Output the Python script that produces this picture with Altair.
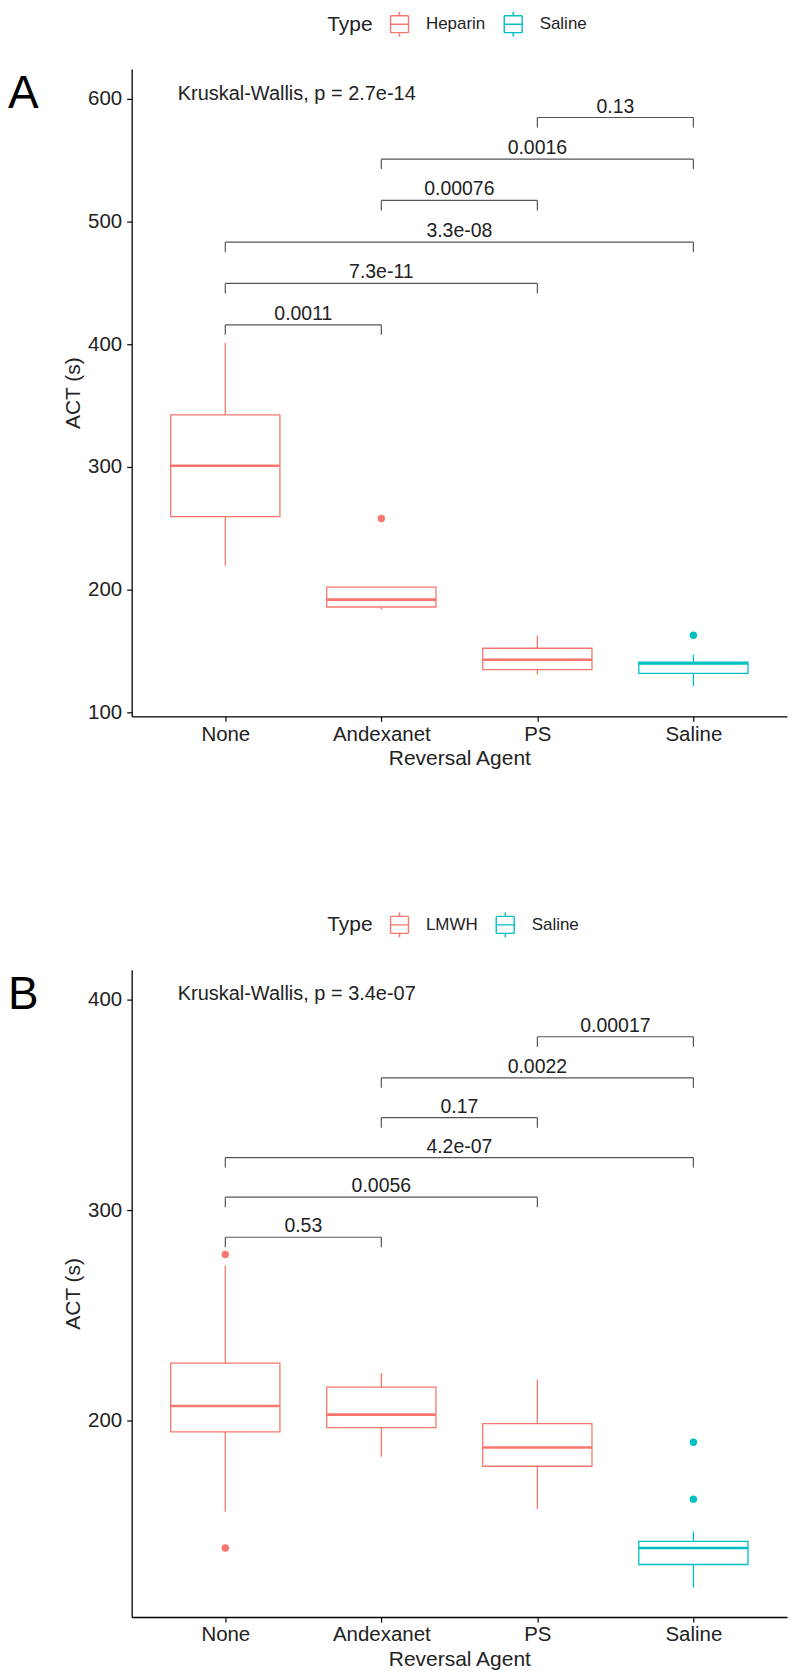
import json
import altair as alt
import pandas as pd

# ---------------- data ----------------
categories = ["None", "Andexanet", "PS", "Saline"]
positions = [1, 2, 3, 4]

# Panel A : Heparin
a_type = ["Heparin", "Heparin", "Heparin", "Saline"]
a_low = [219.5, 184.0, 131.0, 121.6]
a_q1 = [259.5, 186.0, 135.0, 132.0]
a_med = [301.0, 192.0, 143.0, 140.0]
a_q3 = [342.4, 202.2, 152.4, 141.1]
a_high = [401.0, 202.2, 162.7, 147.3]
a_out_pos = [2, 4]
a_out_val = [258.0, 163.0]
a_out_type = ["Heparin", "Saline"]
a_br_x1 = [3, 2, 2, 1, 1, 1]
a_br_x2 = [4, 4, 3, 4, 3, 2]
a_br_y = [584.5, 550.6, 517.0, 483.0, 449.4, 415.7]
a_br_label = ["0.13", "0.0016", "0.00076", "3.3e-08", "7.3e-11", "0.0011"]
a_kw_text = "Kruskal-Wallis, p = 2.7e-14"
a_kw_y = 604.0
a_ticks = [100, 200, 300, 400, 500, 600]
a_domain = [97, 624]
a_legend = ["Heparin", "Saline"]

# Panel B : LMWH
b_type = ["LMWH", "LMWH", "LMWH", "Saline"]
b_low = [157.0, 183.0, 158.2, 121.1]
b_q1 = [194.8, 196.8, 178.5, 131.9]
b_med = [207.1, 203.0, 187.4, 139.7]
b_q3 = [227.4, 216.0, 198.7, 142.9]
b_high = [273.7, 222.7, 219.6, 147.6]
b_out_pos = [1, 1, 4, 4]
b_out_val = [278.9, 139.7, 189.9, 162.9]
b_out_type = ["LMWH", "LMWH", "Saline", "Saline"]
b_br_x1 = [3, 2, 2, 1, 1, 1]
b_br_x2 = [4, 4, 3, 4, 3, 2]
b_br_y = [382.2, 362.7, 343.8, 324.9, 306.1, 287.1]
b_br_label = ["0.00017", "0.0022", "0.17", "4.2e-07", "0.0056", "0.53"]
b_kw_text = "Kruskal-Wallis, p = 3.4e-07"
b_kw_y = 402.4
b_ticks = [200, 300, 400]
b_domain = [107, 414]
b_legend = ["LMWH", "Saline"]

kw_x = 0.695
colors = ["#F8766D", "#00BFC4"]
box_half = 0.35

FONT = "Liberation Sans"
TXT = "#222222"
BR = "#555555"
W, H = 657, 649

# boxplot key glyph drawn as separate open segments (nothing to fill)
legend_path = ("M-0.72,-0.68L0.72,-0.68 M0.72,-0.68L0.72,0.68 "
               "M0.72,0.68L-0.72,0.68 M-0.72,0.68L-0.72,-0.68 "
               "M-0.72,0L0.72,0 M0,-0.68L0,-1 M0,0.68L0,1")

label_expr = json.dumps(categories) + "[datum.value - 1]"


def panel(letter, types, low, q1, med, q3, high, out_pos, out_val, out_type,
          br_x1, br_x2, br_y, br_label, kw_text, kw_y, ticks, domain, legend_dom):
    boxes = pd.DataFrame({"pos": positions, "Type": types, "low": low, "q1": q1,
                          "med": med, "q3": q3, "high": high})
    outs = pd.DataFrame({"pos": out_pos, "val": out_val, "Group": out_type})
    brs = pd.DataFrame({"x1": br_x1, "x2": br_x2, "y": br_y, "label": br_label})

    xs = alt.Scale(domain=[0.4, 4.6], nice=False, zero=False)
    ys = alt.Scale(domain=domain, nice=False, zero=False)
    xaxis = alt.Axis(values=positions, labelExpr=label_expr, title="Reversal Agent",
                     grid=False, tickSize=5, tickWidth=1.2, tickColor="black",
                     domainColor="black", domainWidth=1.3, labelFontSize=20.5,
                     labelColor=TXT, titleFontSize=21, titleColor=TXT,
                     titleFontWeight="normal", labelPadding=3, titlePadding=3,
                     labelFlush=False)
    yaxis = alt.Axis(values=ticks, title="ACT (s)", grid=False, tickSize=5,
                     tickWidth=1.2, tickColor="black", domainColor="black",
                     domainWidth=1.3, labelFontSize=20.5, labelColor=TXT,
                     titleFontSize=21, titleColor=TXT, titleFontWeight="normal",
                     labelPadding=5, titlePadding=4, labelFlush=False)
    cscale = alt.Scale(domain=legend_dom, range=colors)
    leg = alt.Legend(
        orient="none", legendX=196, legendY=-58.5, direction="horizontal",
        title="Type", titleOrient="left", titleAnchor="middle",
        titleBaseline="middle", titleFontSize=21, titleFontWeight="normal",
        titleColor=TXT, titlePadding=13, labelFontSize=17, labelColor=TXT,
        labelOffset=13, columnPadding=14, symbolType=legend_path,
        symbolSize=625, symbolStrokeWidth=1.4, padding=0)
    C = alt.Color("Type:N", scale=cscale, legend=leg)

    X = lambda f: alt.X(f, type="quantitative", scale=xs, axis=xaxis)
    Y = lambda f: alt.Y(f, type="quantitative", scale=ys, axis=yaxis)

    base = alt.Chart(boxes).transform_calculate(
        xlo=f"datum.pos - {box_half}", xhi=f"datum.pos + {box_half}")

    box = base.mark_bar(filled=False, strokeWidth=1.3).encode(
        x=X("xlo"), x2="xhi", y=Y("q1"), y2="q3", color=C)
    whisk_lo = base.mark_rule(strokeWidth=1.3).encode(
        x=X("pos"), y=Y("low"), y2="q1", color=C)
    whisk_hi = base.mark_rule(strokeWidth=1.3).encode(
        x=X("pos"), y=Y("q3"), y2="high", color=C)
    medl = base.mark_rule(strokeWidth=2.6).encode(
        x=X("xlo"), x2="xhi", y=Y("med"), color=C)
    pts = alt.Chart(outs).mark_circle(size=55, opacity=1).encode(
        x=X("pos"), y=Y("val"),
        fill=alt.Fill("Group:N", scale=cscale, legend=None))

    bb = alt.Chart(brs)
    hline = bb.mark_rule(color=BR, strokeWidth=1.2).encode(
        x=X("x1"), x2="x2", y=Y("y"))
    tip1 = bb.mark_rule(color=BR, strokeWidth=1.2, y2Offset=10).encode(
        x=X("x1"), y=Y("y"), y2="y")
    tip2 = bb.mark_rule(color=BR, strokeWidth=1.2, y2Offset=10).encode(
        x=X("x2"), y=Y("y"), y2="y")
    blab = bb.transform_calculate(xm="(datum.x1 + datum.x2) / 2").mark_text(
        baseline="alphabetic", dy=-5, fontSize=19.5, color=TXT).encode(
        x=X("xm"), y=Y("y"), text="label:N")

    kw = alt.Chart(pd.DataFrame({"x": [kw_x], "y": [kw_y], "t": [kw_text]})).mark_text(
        align="left", baseline="middle", fontSize=20, color=TXT).encode(
        x=X("x"), y=Y("y"), text="t:N")

    let = alt.Chart(pd.DataFrame({"t": [letter]})).mark_text(
        align="left", baseline="alphabetic", fontSize=46, color="black").encode(
        x=alt.value(-124), y=alt.value(39), text="t:N")

    return alt.layer(box, whisk_lo, whisk_hi, medl, pts, hline, tip1, tip2, blab,
                     kw, let).properties(width=W, height=H)


pa = panel("A", a_type, a_low, a_q1, a_med, a_q3, a_high, a_out_pos, a_out_val,
           a_out_type, a_br_x1, a_br_x2, a_br_y, a_br_label, a_kw_text, a_kw_y,
           a_ticks, a_domain, a_legend)
pb = panel("B", b_type, b_low, b_q1, b_med, b_q3, b_high, b_out_pos, b_out_val,
           b_out_type, b_br_x1, b_br_x2, b_br_y, b_br_label, b_kw_text, b_kw_y,
           b_ticks, b_domain, b_legend)

chart = alt.vconcat(pa, pb, spacing=142).resolve_scale(
    x="independent", y="independent", color="independent", fill="independent"
).resolve_legend(color="independent", fill="independent").configure(
    font=FONT, padding={"left": 0, "top": 0, "right": 5, "bottom": 5}
).configure_view(stroke=None)

chart.save("out.html", embed_options={"renderer": "svg", "actions": False})
